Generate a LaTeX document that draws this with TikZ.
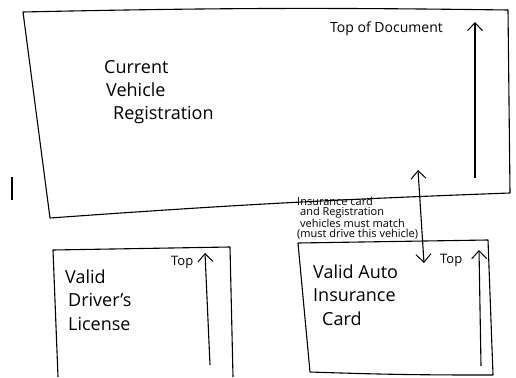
\documentclass[tikz,border=0pt]{standalone}
\usepackage{fontspec}
\setmainfont{Open Sans}
\usetikzlibrary{positioning,arrows.meta}

\begin{document}
\begin{tikzpicture}[
  x=1pt, y=-1pt,
  >={Straight Barb[length=8pt,width=15pt,line width=1pt]},
  every node/.style={font=\fontsize{18}{23.5}\selectfont},
  sheet/.style={draw, line width=1.1pt, line join=round},
  doctext/.style={align=left, anchor=base west, inner sep=0pt},
  notetext/.style={font=\fontsize{11}{10}\selectfont, align=left, anchor=base west, inner sep=0pt},
  toptext/.style={font=\fontsize{14}{15}\selectfont, anchor=base west, inner sep=0pt},
  arrow/.style={->, line width=1.1pt}
]
\useasboundingbox (0,0) rectangle (516,377);

% Sheets
\coordinate (reg-nw) at (23,12);
\coordinate (reg-ne) at (508,10);
\coordinate (reg-se) at (510,193);
\coordinate (reg-sw) at (50,218);
\draw[sheet] (reg-nw) to[bend left=1] (reg-ne) -- (reg-se) to[bend right=1] (reg-sw) -- cycle;

\coordinate (lic-nw) at (53,250);
\coordinate (lic-ne) at (230,247);
\coordinate (lic-se) at (233,377);
\coordinate (lic-sw) at (58,377);
\draw[sheet] (lic-sw) -- (lic-nw) -- (lic-ne) -- (lic-se);

\coordinate (ins-nw) at (298,243);
\coordinate (ins-ne) at (488,240);
\coordinate (ins-se) at (493,375);
\coordinate (ins-sw) at (310,372);
\draw[sheet] (ins-nw) -- (ins-ne) -- (ins-se) to[bend left=1] (ins-sw) -- cycle;

% stray mark
\coordinate (mark-a) at (12,177);
\coordinate (mark-b) at (12,200);
\draw[line width=1.1pt] (mark-a) -- (mark-b);

% Nodes (base = last line)
\node[doctext] (reg) at (104,120) {Current\\\hspace{2pt}Vehicle\\\hspace{9pt}Registration};
\node[toptext] (regtop) at (330,33) {Top of Document};
\node[doctext] (lic) at (65,330) {Valid\\\hspace{3pt}Driver's\\\hspace{3pt}License};
\node[toptext, font=\fontsize{13}{14}\selectfont] (lictop) at (171,265) {Top};
\node[doctext] (ins) at (313,325) {Valid Auto\\Insurance\\\hspace{9pt}Card};
\node[toptext, font=\fontsize{13}{14}\selectfont] (instop) at (440,263) {Top};
\node[notetext] (match) at (297,237) {Insurance card\\\hspace{3pt}and Registration\\\hspace{3pt}vehicles must match\\(must drive this vehicle)};

% Arrows
\coordinate (reg-up-a) at (475,178);
\coordinate (reg-up-b) at (475,22);
\draw[arrow] (reg-up-a) -- (reg-up-b);

\coordinate (lic-up-a) at (210,365);
\coordinate (lic-up-b) at (205,253);
\draw[arrow] (lic-up-a) -- (lic-up-b);

\coordinate (ins-up-a) at (481,366);
\coordinate (ins-up-b) at (479,250);
\draw[arrow] (ins-up-a) -- (ins-up-b);

\coordinate (link-a) at (418,170);
\coordinate (link-b) at (424,263);
\draw[arrow, <->] (link-a) -- (link-b);
\end{tikzpicture}
\end{document}
